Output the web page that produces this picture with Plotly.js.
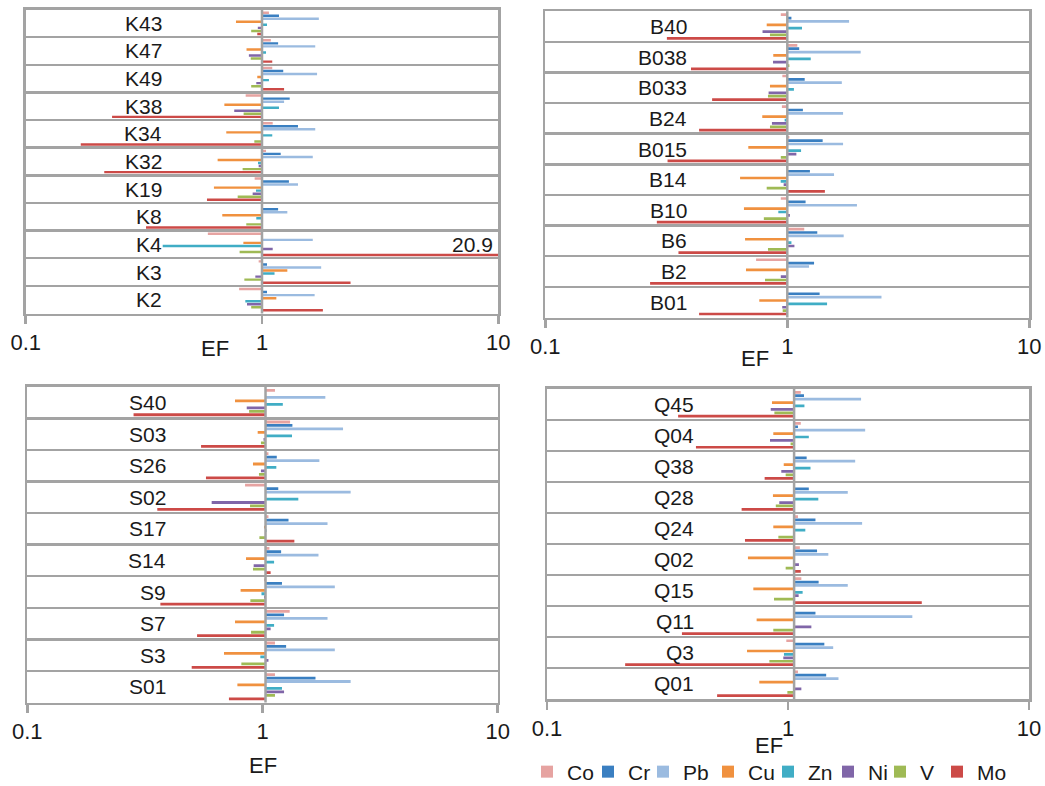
<!DOCTYPE html>
<html><head><meta charset="utf-8">
<script src="https://cdn.plot.ly/plotly-3.0.1.min.js"></script>
<style>html,body{margin:0;padding:0;background:#fff}#chart{width:1045px;height:786px}</style>
</head><body><div id="chart"></div>
<script>
// ---------- data ----------
const elements = ['Co','Cr','Pb','Cu','Zn','Ni','V','Mo'];
const elementColors = ['#E6A3A1','#3A7FC1','#9BBBE0','#F0913F','#40ADC5','#8066A8','#9FBA55','#CC4A47'];

// Panel K
const catsK = ['K43','K47','K49','K38','K34','K32','K19','K8','K4','K3','K2'];
const kCo = [1.07,1.09,1.105,0.853,1.11,1.04,0.931,1.0,0.59,0.968,0.80];
const kCr = [1.18,1.17,1.23,1.31,1.42,1.20,1.30,1.17,1.0,1.05,1.05];
const kPb = [1.74,1.68,1.71,1.24,1.68,1.64,1.42,1.28,1.64,1.78,1.67];
const kCu = [0.776,0.86,0.955,0.693,0.706,0.649,0.626,0.679,0.834,1.28,1.15];
const kZn = [1.05,1.04,1.07,1.18,1.105,0.962,0.943,0.946,0.38,1.13,0.85];
const kNi = [0.96,0.88,0.946,0.763,0.99,0.968,0.913,1.01,1.11,0.937,0.864];
const kV  = [0.90,0.896,0.90,0.836,0.928,0.828,0.789,0.858,0.804,0.842,0.90];
const kMo = [0.955,1.105,1.24,0.232,0.171,0.215,0.585,0.323,20.9,2.37,1.81];

// Panel B
const catsB = ['B40','B038','B033','B24','B015','B14','B10','B6','B2','B01'];
const bCo = [0.94,1.10,0.954,0.95,1.02,1.0,0.94,1.175,0.743,1.0];
const bCr = [1.04,1.12,1.18,1.16,1.40,1.24,1.19,1.33,1.29,1.36];
const bPb = [1.80,2.01,1.68,1.70,1.70,1.56,1.94,1.71,1.23,2.45];
const bCu = [0.822,0.875,0.848,0.788,0.69,0.638,0.662,0.669,0.675,0.766];
const bZn = [1.15,1.25,1.065,0.975,1.14,0.939,0.918,1.04,1.0,1.46];
const bNi = [0.79,0.873,0.837,0.864,1.09,0.966,1.025,1.07,0.94,0.953];
const bV  = [0.848,1.02,0.832,0.848,0.94,0.822,0.80,0.832,0.809,0.957];
const bMo = [0.318,0.40,0.489,0.432,0.32,1.43,0.289,0.355,0.271,0.432];

// Panel S
const catsS = ['S40','S03','S26','S02','S17','S14','S9','S7','S3','S01'];
const sCo = [1.13,1.31,1.06,0.843,1.06,1.07,1.015,1.305,1.13,1.13];
const sCr = [1.03,1.34,1.15,1.167,1.29,1.20,1.21,1.235,1.26,1.68];
const sPb = [1.85,2.20,1.745,2.37,1.89,1.73,2.03,1.89,2.03,2.37];
const sCu = [0.764,0.954,0.911,1.03,1.015,0.851,0.807,0.764,0.686,0.782];
const sZn = [1.22,1.335,1.145,1.42,1.04,1.12,0.99,1.12,0.979,1.21];
const sNi = [0.857,1.01,0.985,0.608,1.03,0.917,1.015,1.083,1.06,1.235];
const sV  = [0.877,0.985,0.966,0.885,0.97,0.911,0.888,0.894,0.813,1.13];
const sMo = [0.283,0.548,0.575,0.357,1.366,1.083,0.368,0.527,0.50,0.72];

// Panel Q
const catsQ = ['Q45','Q04','Q38','Q28','Q24','Q02','Q15','Q11','Q3','Q01'];
const qCo = [1.13,1.13,1.06,1.06,1.10,1.12,1.136,1.06,0.984,1.10];
const qCr = [1.165,1.10,1.195,1.22,1.30,1.32,1.34,1.30,1.415,1.44];
const qPb = [2.01,2.09,1.90,1.77,2.03,1.47,1.77,3.28,1.54,1.62];
const qCu = [0.858,0.869,0.96,0.866,0.869,0.682,0.718,0.741,0.676,0.76];
const qZn = [1.17,1.22,1.24,1.336,1.18,1.06,1.15,1.06,0.962,1.06];
const qNi = [0.848,0.842,0.938,0.92,1.06,1.11,1.107,1.25,0.956,1.136];
const qV  = [0.878,1.025,0.978,0.89,0.912,0.978,0.875,0.869,0.837,0.994];
const qMo = [0.35,0.415,0.80,0.642,0.663,1.13,3.59,0.363,0.211,0.508];

// value at which the vertical (category) axis crosses, per panel
const axisCross = [1, 1, 1.03, 1.06];

const xTickVals = [0.1, 1, 10];
const xTickText = ['0.1', '1', '10'];
const axisTitle = 'EF';

// ---------- layout geometry ----------
const W = 1045, H = 786;
const panelData = [
  {cats: catsK, vals: [kCo,kCr,kPb,kCu,kZn,kNi,kV,kMo]},
  {cats: catsB, vals: [bCo,bCr,bPb,bCu,bZn,bNi,bV,bMo]},
  {cats: catsS, vals: [sCo,sCr,sPb,sCu,sZn,sNi,sV,sMo]},
  {cats: catsQ, vals: [qCo,qCr,qPb,qCu,qZn,qNi,qV,qMo]}
];
// plot-area boxes in pixels [left, right, top, bottom]
const boxes = [
  [25.7, 498.3, 9.5, 313.5],
  [545.3, 1029.3, 11.2, 317.5],
  [27.3, 497.7, 386.8, 702.5],
  [547, 1029, 388.7, 699.3]
];
const labelRight = [0.2926, 0.2969, 0.2991, 0.3081];
const titlePos = [[215, 348], [755, 358], [263, 765], [769, 745]];
// left edge (px) of each legend entry
const legendLeft = [527, 588, 643, 708, 768, 828, 880, 937];
const legendY = 772;

const FONT = 'Liberation Sans, Arial, sans-serif';
const TXT = '#1a1a1a';
const GRAY = '#A3A3A3';

const traces = [];
const layout = {
  width: W, height: H,
  margin: {l: 0, r: 0, t: 0, b: 0, autoexpand: false},
  paper_bgcolor: '#fff', plot_bgcolor: '#fff',
  font: {family: FONT, color: TXT, size: 21},
  barmode: 'group', bargap: 0.12, bargroupgap: 0.2,
  showlegend: true,
  annotations: [], shapes: []
};

elements.forEach((el, ei) => {
  const lid = ei === 0 ? 'legend' : 'legend' + (ei + 1);
  layout[lid] = {orientation: 'h', xref: 'container', yref: 'container',
    x: legendLeft[ei] / W, xanchor: 'left', y: 1 - legendY / H, yanchor: 'middle',
    font: {family: FONT, size: 21, color: TXT}, bgcolor: 'rgba(0,0,0,0)', borderwidth: 0};
});

panelData.forEach((p, pi) => {
  const sfx = pi === 0 ? '' : String(pi + 1);
  const xa = 'x' + sfx, ya = 'y' + sfx;
  const b = boxes[pi];
  const cross = axisCross[pi];
  elements.forEach((el, ei) => {
    const v = p.vals[ei];
    traces.push({
      type: 'bar', orientation: 'h', name: el, legendgroup: el, showlegend: pi === 0,
      legend: ei === 0 ? 'legend' : 'legend' + (ei + 1),
      y: p.cats, x: v.map(d => d - cross), base: cross, customdata: v,
      marker: {color: elementColors[ei], line: {width: 0}},
      hovertemplate: '%{y} ' + el + ': %{customdata}<extra></extra>',
      xaxis: xa, yaxis: ya
    });
  });
  layout['xaxis' + sfx] = {
    type: 'log', range: [-1, 1], domain: [b[0] / W, b[1] / W], anchor: ya,
    tickmode: 'array', tickvals: xTickVals, ticktext: xTickText,
    ticks: 'outside', ticklen: 8, tickwidth: 2.5, tickcolor: GRAY,
    showgrid: false, zeroline: false, showline: true, mirror: true,
    linecolor: GRAY, linewidth: 2.5, tickfont: {family: FONT, size: 22, color: TXT},
    fixedrange: true, automargin: false
  };
  layout['yaxis' + sfx] = {
    type: 'category', categoryorder: 'array', categoryarray: p.cats,
    range: [p.cats.length - 0.5, -0.5], autorange: false,
    domain: [1 - b[3] / H, 1 - b[2] / H], anchor: xa,
    showticklabels: false, ticks: '', tickson: 'boundaries',
    showgrid: true, gridcolor: GRAY, gridwidth: 2.5, zeroline: false,
    showline: true, mirror: true, linecolor: GRAY, linewidth: 2.5, fixedrange: true, automargin: false
  };
  // vertical axis line at the crossing value
  const crossFrac = (Math.log10(cross) + 1) / 2;
  layout.shapes.push({type: 'line', xref: xa + ' domain', yref: ya + ' domain',
    x0: crossFrac, x1: crossFrac, y0: 0, y1: 1, line: {color: GRAY, width: 2.5}, layer: 'above'});
  // category labels
  p.cats.forEach(c => {
    layout.annotations.push({xref: xa + ' domain', yref: ya, x: labelRight[pi], y: c, text: c,
      showarrow: false, xanchor: 'right', yanchor: 'middle', font: {family: FONT, size: 21, color: TXT}});
  });
  // data labels for bars clipped at the axis maximum
  elements.forEach((el, ei) => {
    p.vals[ei].forEach((v, ci) => {
      if (v > xTickVals[xTickVals.length - 1]) {
        layout.annotations.push({xref: xa + ' domain', yref: ya, x: 0.993, y: p.cats[ci], text: String(v),
          showarrow: false, xanchor: 'right', yanchor: 'middle', font: {family: FONT, size: 21, color: TXT}});
      }
    });
  });
  // axis title
  layout.annotations.push({xref: 'paper', yref: 'paper', x: titlePos[pi][0] / W, y: 1 - titlePos[pi][1] / H,
    text: axisTitle, showarrow: false, xanchor: 'center', yanchor: 'middle', font: {family: FONT, size: 22, color: TXT}});
});

Plotly.newPlot('chart', traces, layout, {displayModeBar: false, staticPlot: true});
</script>
</body></html>
